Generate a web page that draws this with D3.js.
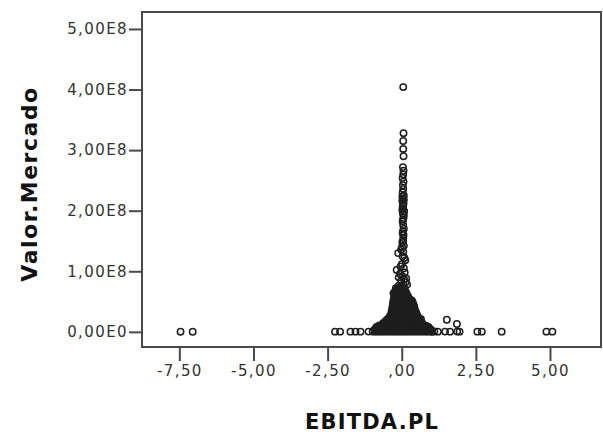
<!DOCTYPE html>
<html>
<head>
<meta charset="utf-8">
<script src="https://cdn.jsdelivr.net/npm/d3@7"></script>
<style>
  html, body { margin: 0; padding: 0; background: #fff; }
  svg { display: block; }
</style>
</head>
<body>
<svg id="chart" width="603" height="438"></svg>
<script>
// Axis ticks
const xTickValues = [-7.5, -5, -2.5, 0, 2.5, 5];
const xTickLabels = ["-7,50", "-5,00", "-2,50", ",00", "2,50", "5,00"];
const yTickValues = [0, 1e8, 2e8, 3e8, 4e8, 5e8];
const yTickLabels = ["0,00E0", "1,00E8", "2,00E8", "3,00E8", "4,00E8", "5,00E8"];

// Isolated companies away from the main mass: [EBITDA.PL, Valor.Mercado]
const farPoints = [
  [-7.46, 0.002e8], [-7.05, 0.002e8],
  [-2.25, 0.003e8], [-2.08, 0.003e8], [-1.73, 0.003e8], [-1.56, 0.003e8],
  [-1.39, 0.003e8], [-1.12, 0.004e8],
  [1.02, 0.004e8], [1.22, 0.003e8], [1.46, 0.004e8], [1.63, 0.003e8],
  [1.87, 0.004e8], [1.95, 0.003e8],
  [1.52, 0.2e8], [1.86, 0.13e8], [0.65, 0.21e8],
  [2.55, 0.003e8], [2.7, 0.003e8], [3.37, 0.003e8],
  [4.88, 0.003e8], [5.08, 0.003e8]
];

// Large-cap companies stacked just right of zero
const columnPoints = [
  [0.05, 4.04e8], [0.06, 3.28e8], [0.05, 3.15e8], [0.05, 3.02e8], [0.06, 2.9e8],
  [0.04, 2.72e8], [0.06, 2.66e8], [0.05, 2.6e8], [0.03, 2.54e8], [0.06, 2.48e8],
  [0.04, 2.42e8], [0.05, 2.36e8], [0.03, 2.3e8], [0.07, 2.25e8], [0.04, 2.2e8],
  [0.02, 2.16e8], [0.06, 2.12e8], [0.03, 2.07e8], [0.05, 2.03e8], [0.08, 1.99e8],
  [0.04, 1.95e8], [0.06, 1.88e8], [0.03, 1.82e8], [0.05, 1.76e8], [0.04, 1.66e8],
  [0.06, 1.6e8], [0.05, 1.55e8], [0.02, 1.48e8], [0.07, 1.42e8], [-0.02, 1.36e8],
  [0.05, 1.32e8], [-0.12, 1.3e8], [0.03, 1.25e8], [0.12, 1.18e8], [0.01, 1.12e8],
  [-0.17, 1.02e8], [0.07, 1.05e8], [-0.06, 0.96e8], [0.02, 0.92e8], [0.08, 0.87e8],
  [0.13, 0.82e8], [-0.02, 0.84e8], [0.18, 0.78e8], [0.05, 0.78e8], [-0.1, 0.76e8],
  [-0.28, 0.64e8],
  [0.02, 2.23e8], [0.07, 2.18e8], [0.05, 2.09e8], [0.02, 2.01e8], [0.07, 1.93e8],
  [0.04, 1.85e8], [0.07, 1.7e8], [0.03, 1.63e8], [0.05, 1.51e8], [0.01, 1.4e8],
  [0.09, 1.22e8], [-0.04, 1.08e8], [0.1, 0.98e8], [-0.1, 0.9e8], [0.15, 0.88e8]
];

// Dense mass around zero, one row per Valor.Mercado level: [y, [x...]]
const clusterRows = [
  [0.72e8, [-0.2, -0.13, -0.06, 0.01, 0.08]],
  [0.695e8, [-0.17, -0.1, -0.03, 0.04, 0.1]],
  [0.67e8, [-0.22, -0.15, -0.08, -0.01, 0.06, 0.12]],
  [0.645e8, [-0.19, -0.12, -0.05, 0.02, 0.09, 0.15]],
  [0.62e8, [-0.24, -0.17, -0.1, -0.03, 0.04, 0.11, 0.17]],
  [0.595e8, [-0.21, -0.14, -0.07, 0, 0.07, 0.14, 0.2]],
  [0.57e8, [-0.26, -0.19, -0.12, -0.05, 0.02, 0.09, 0.16, 0.23]],
  [0.545e8, [-0.23, -0.16, -0.09, -0.02, 0.05, 0.12, 0.19, 0.26]],
  [0.52e8, [-0.28, -0.21, -0.14, -0.07, 0, 0.07, 0.14, 0.21, 0.28, 0.34]],
  [0.495e8, [-0.25, -0.18, -0.11, -0.04, 0.03, 0.1, 0.17, 0.24, 0.31, 0.36]],
  [0.47e8, [-0.3, -0.23, -0.16, -0.09, -0.02, 0.05, 0.12, 0.19, 0.26, 0.33, 0.38]],
  [0.445e8, [-0.27, -0.2, -0.13, -0.06, 0.01, 0.08, 0.15, 0.22, 0.29, 0.36, 0.4]],
  [0.42e8, [-0.31, -0.24, -0.17, -0.1, -0.03, 0.04, 0.11, 0.18, 0.25, 0.32, 0.39, 0.42]],
  [0.395e8, [-0.29, -0.22, -0.15, -0.08, -0.01, 0.06, 0.13, 0.2, 0.27, 0.34, 0.41]],
  [0.37e8, [-0.33, -0.26, -0.19, -0.12, -0.05, 0.02, 0.09, 0.16, 0.23, 0.3, 0.37, 0.44]],
  [0.345e8, [-0.31, -0.24, -0.17, -0.1, -0.03, 0.04, 0.11, 0.18, 0.25, 0.32, 0.39, 0.46]],
  [0.32e8, [-0.35, -0.28, -0.21, -0.14, -0.07, 0, 0.07, 0.14, 0.21, 0.28, 0.35, 0.42, 0.48]],
  [0.295e8, [-0.33, -0.26, -0.19, -0.12, -0.05, 0.02, 0.09, 0.16, 0.23, 0.3, 0.37, 0.44, 0.5]],
  [0.27e8, [-0.38, -0.31, -0.24, -0.17, -0.1, -0.03, 0.04, 0.11, 0.18, 0.25, 0.32, 0.39, 0.46, 0.52]],
  [0.245e8, [-0.41, -0.34, -0.27, -0.2, -0.13, -0.06, 0.01, 0.08, 0.15, 0.22, 0.29, 0.36, 0.43, 0.5, 0.55]],
  [0.22e8, [-0.45, -0.38, -0.31, -0.24, -0.17, -0.1, -0.03, 0.04, 0.11, 0.18, 0.25, 0.32, 0.39, 0.46, 0.53, 0.58]],
  [0.195e8, [-0.51, -0.44, -0.37, -0.3, -0.23, -0.16, -0.09, -0.02, 0.05, 0.12, 0.19, 0.26, 0.33, 0.4, 0.47, 0.54, 0.61]],
  [0.17e8, [-0.55, -0.48, -0.41, -0.34, -0.27, -0.2, -0.13, -0.06, 0.01, 0.08, 0.15, 0.22, 0.29, 0.36, 0.43, 0.5, 0.57, 0.64]],
  [0.145e8, [-0.62, -0.55, -0.48, -0.41, -0.34, -0.27, -0.2, -0.13, -0.06, 0.01, 0.08, 0.15, 0.22, 0.29, 0.36, 0.43, 0.5, 0.57, 0.64, 0.69]],
  [0.12e8, [-0.68, -0.61, -0.54, -0.47, -0.4, -0.33, -0.26, -0.19, -0.12, -0.05, 0.02, 0.09, 0.16, 0.23, 0.3, 0.37, 0.44, 0.51, 0.58, 0.65, 0.72]],
  [0.1e8, [-0.77, -0.7, -0.63, -0.56, -0.49, -0.42, -0.35, -0.28, -0.21, -0.14, -0.07, 0, 0.07, 0.14, 0.21, 0.28, 0.35, 0.42, 0.49, 0.56, 0.63, 0.7, 0.77, 0.82]],
  [0.08e8, [-0.85, -0.78, -0.71, -0.64, -0.57, -0.5, -0.43, -0.36, -0.29, -0.22, -0.15, -0.08, -0.01, 0.06, 0.13, 0.2, 0.27, 0.34, 0.41, 0.48, 0.55, 0.62, 0.69, 0.76, 0.83, 0.9]],
  [0.057e8, [-0.88, -0.81, -0.74, -0.67, -0.6, -0.53, -0.46, -0.39, -0.32, -0.25, -0.18, -0.11, -0.04, 0.03, 0.1, 0.17, 0.24, 0.31, 0.38, 0.45, 0.52, 0.59, 0.66, 0.73, 0.8, 0.87, 0.94]],
  [0.035e8, [-0.92, -0.84, -0.77, -0.7, -0.63, -0.56, -0.49, -0.42, -0.35, -0.28, -0.21, -0.14, -0.07, 0, 0.07, 0.14, 0.21, 0.28, 0.35, 0.42, 0.49, 0.56, 0.63, 0.7, 0.77, 0.84, 0.92, 0.98]],
  [0.005e8, [-0.98, -0.91, -0.85, -0.78, -0.72, -0.65, -0.58, -0.52, -0.45, -0.38, -0.31, -0.25, -0.18, -0.11, -0.05, 0.02, 0.09, 0.15, 0.22, 0.29, 0.36, 0.42, 0.49, 0.56, 0.62, 0.69, 0.76, 0.83, 0.89, 0.96, 1.03, 1.1]]
];

const points = farPoints
  .concat(columnPoints)
  .concat(clusterRows.flatMap(([yv, xs]) => xs.map(xv => [xv, yv])));

const svg = d3.select("#chart");
const plot = { left: 142, top: 12, right: 601, bottom: 347 };

const x = d3.scaleLinear().domain([-8.76, 6.72]).range([plot.left, plot.right]);
const y = d3.scaleLinear().domain([-0.25e8, 5.28e8]).range([plot.bottom, plot.top]);

const axisColor = "#4a4a4a";
const tickFont = "'DejaVu Sans', Verdana, sans-serif";

// Points
svg.append("g")
  .selectAll("circle")
  .data(points)
  .join("circle")
  .attr("cx", d => x(d[0]))
  .attr("cy", d => y(d[1]))
  .attr("r", 3.2)
  .attr("fill", "none")
  .attr("stroke", "#1e1e1e")
  .attr("stroke-width", 1.5);

// Frame
svg.append("rect")
  .attr("x", plot.left)
  .attr("y", plot.top)
  .attr("width", plot.right - plot.left)
  .attr("height", plot.bottom - plot.top)
  .attr("fill", "none")
  .attr("stroke", axisColor)
  .attr("stroke-width", 2);

// X axis
const xAxis = svg.append("g")
  .attr("transform", `translate(0,${plot.bottom})`)
  .call(d3.axisBottom(x)
    .tickValues(xTickValues)
    .tickFormat((d, i) => xTickLabels[i])
    .tickSize(14)
    .tickPadding(4));
xAxis.select(".domain").remove();
xAxis.selectAll(".tick line").attr("stroke", axisColor).attr("stroke-width", 2);
xAxis.selectAll(".tick text")
  .attr("fill", "#333")
  .style("font-family", tickFont)
  .style("font-size", "15px")
  .style("letter-spacing", "1.4px");

// Y axis
const yAxis = svg.append("g")
  .attr("transform", `translate(${plot.left},0)`)
  .call(d3.axisLeft(y)
    .tickValues(yTickValues)
    .tickFormat((d, i) => yTickLabels[i])
    .tickSize(13)
    .tickPadding(1));
yAxis.select(".domain").remove();
yAxis.selectAll(".tick line").attr("stroke", axisColor).attr("stroke-width", 2);
yAxis.selectAll(".tick text")
  .attr("fill", "#333")
  .style("font-family", tickFont)
  .style("font-size", "15px")
  .style("letter-spacing", "1.4px");

// Axis titles
svg.append("text")
  .attr("x", 372)
  .attr("y", 429)
  .attr("text-anchor", "middle")
  .style("font-family", tickFont)
  .style("font-weight", "bold")
  .style("font-size", "21px")
  .style("letter-spacing", "1.2px")
  .attr("fill", "#111")
  .text("EBITDA.PL");

svg.append("text")
  .attr("transform", "translate(37,184) rotate(-90)")
  .attr("text-anchor", "middle")
  .style("font-family", tickFont)
  .style("font-weight", "bold")
  .style("font-size", "22px")
  .style("letter-spacing", "1.5px")
  .attr("fill", "#111")
  .text("Valor.Mercado");
</script>
</body>
</html>
